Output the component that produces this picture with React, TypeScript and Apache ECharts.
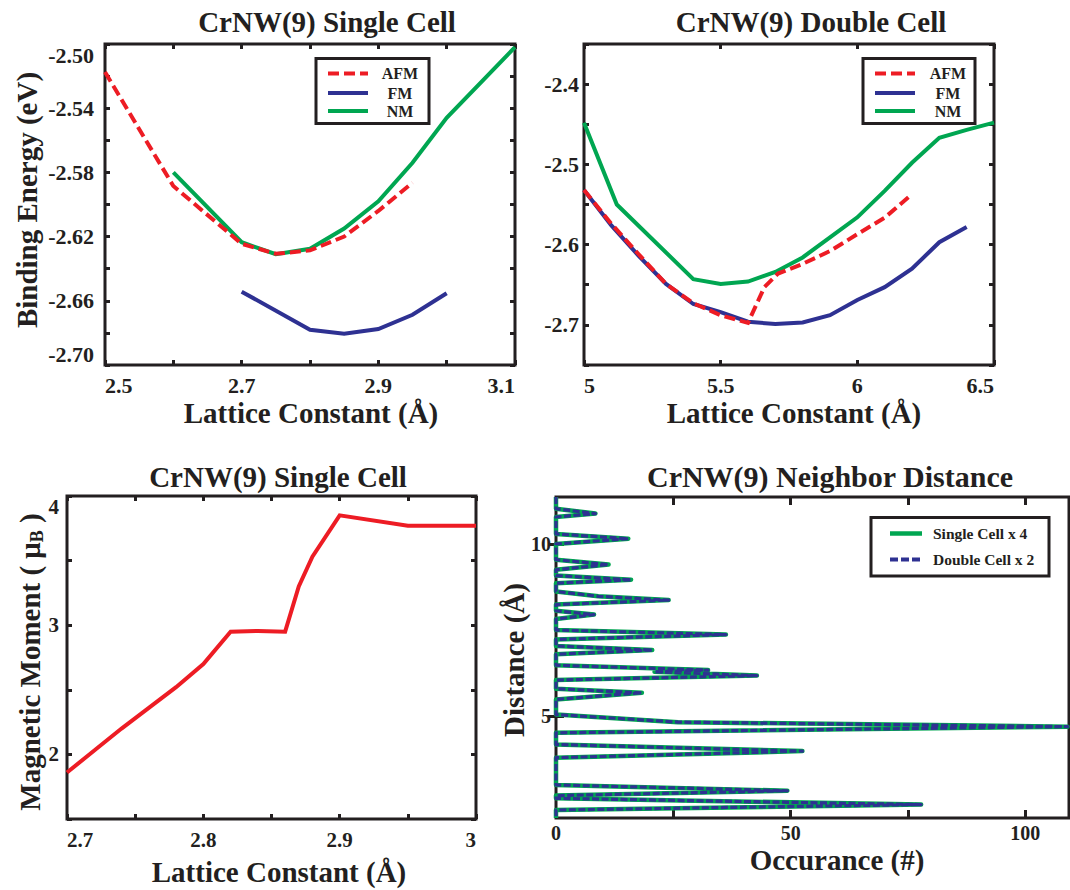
import React, { useEffect, useRef } from "react";
import * as echarts from "echarts";

const INK = "#231f20";
const RED = "#ed1c24";
const BLUE = "#2e3192";
const GREEN = "#00a651";
const FONT = '"Liberation Serif", "Times New Roman", serif';

// ---------- Panel 1: CrNW(9) Single Cell, binding energy ----------
const p1AfmX = [2.5, 2.6, 2.7, 2.75, 2.8, 2.85, 2.9, 2.95];
const p1AfmY = [-2.5175, -2.5885, -2.6245, -2.6307, -2.6286, -2.62, -2.604, -2.5864];
const p1FmX = [2.7, 2.8, 2.85, 2.9, 2.95, 3.0];
const p1FmY = [-2.6543, -2.678, -2.6805, -2.6776, -2.6687, -2.6553];
const p1NmX = [2.6, 2.7, 2.75, 2.8, 2.85, 2.9, 2.95, 3.0, 3.1];
const p1NmY = [-2.58, -2.6235, -2.631, -2.6276, -2.615, -2.598, -2.574, -2.546, -2.502];
const p1XTicks = [2.5, 2.6, 2.7, 2.8, 2.9, 3.0, 3.1];
const p1XLabels = [2.5, 2.7, 2.9, 3.1];
const p1YTicks = [-2.7, -2.68, -2.66, -2.64, -2.62, -2.6, -2.58, -2.56, -2.54, -2.52, -2.5];
const p1YLabels = [-2.7, -2.66, -2.62, -2.58, -2.54, -2.5];

// ---------- Panel 2: CrNW(9) Double Cell, binding energy ----------
const p2AfmX = [5.0, 5.1, 5.2, 5.3, 5.4, 5.5, 5.6, 5.66, 5.71, 5.8, 5.9, 6.0, 6.1, 6.2];
const p2AfmY = [-2.532, -2.574, -2.612, -2.649, -2.673, -2.688, -2.6975, -2.653, -2.636, -2.624, -2.608, -2.587, -2.5665, -2.537];
const p2FmX = [5.0, 5.1, 5.2, 5.3, 5.4, 5.5, 5.6, 5.7, 5.8, 5.9, 6.0, 6.1, 6.2, 6.3, 6.4];
const p2FmY = [-2.532, -2.576, -2.614, -2.649, -2.674, -2.684, -2.696, -2.699, -2.697, -2.688, -2.669, -2.653, -2.63, -2.597, -2.578];
const p2NmX = [5.0, 5.12, 5.4, 5.5, 5.6, 5.7, 5.8, 5.9, 6.0, 6.1, 6.2, 6.3, 6.4, 6.5];
const p2NmY = [-2.448, -2.55, -2.643, -2.649, -2.646, -2.634, -2.616, -2.591, -2.566, -2.533, -2.498, -2.467, -2.457, -2.448];
const p2XTicks = [5, 5.5, 6, 6.5];
const p2XLabels = [5, 5.5, 6, 6.5];
const p2YTicks = [-2.75, -2.7, -2.65, -2.6, -2.55, -2.5, -2.45, -2.4, -2.35];
const p2YLabels = [-2.7, -2.6, -2.5, -2.4];

// ---------- Panel 3: magnetic moment ----------
const p3X = [2.7, 2.72, 2.74, 2.76, 2.78, 2.8, 2.82, 2.84, 2.86, 2.87, 2.88, 2.9, 2.95, 3.0];
const p3Y = [1.86, 2.03, 2.2, 2.36, 2.52, 2.7, 2.95, 2.955, 2.95, 3.3, 3.53, 3.85, 3.77, 3.77];
const p3XTicks = [2.7, 2.75, 2.8, 2.85, 2.9, 2.95, 3.0];
const p3XLabels = [2.7, 2.8, 2.9, 3];
const p3YTicks = [1.5, 2, 2.5, 3, 3.5, 4];
const p3YLabels = [2, 3, 4];

// ---------- Panel 4: neighbor distance ----------
const nbDist = [11.36, 11.02, 10.88, 10.78, 10.29, 10.15, 10.0, 9.54, 9.4, 9.25, 9.08, 8.96, 8.86,
  8.62, 8.48, 8.37, 8.24, 8.06, 7.95, 7.82, 7.5, 7.37, 7.23, 7.04, 6.92, 6.8,
  6.48, 6.34, 6.29, 6.18, 6.05, 5.8, 5.68, 5.49, 5.05, 4.83, 4.7, 4.52,
  4.18, 3.99, 3.8, 3.01, 2.84, 2.7, 2.62, 2.44, 2.28, 2.05];
const singleOcc = [0, 0, 8.4, 0, 0, 15.4, 0, 0, 11.2, 0, 0, 16.0, 0,
  0, 9.0, 24.0, 0, 0, 8.1, 0, 0, 36.2, 0, 0, 20.5, 0,
  0, 32.4, 21.0, 42.8, 0, 0, 18.3, 0, 0, 26.0, 109, 0,
  0, 52.5, 0, 0, 49.3, 0, 0, 77.8, 0, 0];
const doubleOcc = [0, 0, 8.4, 0, 0, 15.4, 0, 0, 11.2, 0, 0, 16.0, 0,
  0, 9.0, 24.0, 0, 0, 8.1, 0, 0, 36.2, 0, 0, 20.5, 0,
  0, 32.4, 21.0, 42.8, 0, 0, 18.3, 0, 0, 26.0, 109, 0,
  0, 52.5, 0, 0, 49.3, 0, 0, 77.8, 0, 0];
const p4XTicks = [0, 25, 50, 75, 100];
const p4XLabels = [0, 50, 100];
const p4YTicks = [5, 10];
const p4YLabels = [5, 10];

const pairs = (xs: number[], ys: number[]) => xs.map((x, i) => [x, ys[i]]);

function axisPair(kind: "x" | "y", grid: number, min: number, max: number, ticks: number[], labels: number[], o: any) {
  const tick = { show: true, inside: true, length: o.tickLen, lineStyle: { color: INK, width: o.tickW }, customValues: ticks };
  const base: any = {
    type: "value", gridIndex: grid, min, max, scale: true,
    splitLine: { show: false }, axisLine: { show: false }, axisTick: tick,
  };
  const label: any = {
    show: true, customValues: labels, margin: o.margin, fontSize: o.fs, fontWeight: "bold",
    fontFamily: FONT, color: INK, formatter: o.fmt || ((v: number) => String(v)),
  };
  if (o.alignMin) label.alignMinLabel = o.alignMin;
  if (o.alignMax) label.alignMaxLabel = o.alignMax;
  if (o.vMin) label.verticalAlignMinLabel = o.vMin;
  if (o.vMax) label.verticalAlignMaxLabel = o.vMax;
  return [
    { ...base, position: kind === "x" ? "bottom" : "left", axisLabel: label },
    { ...base, position: kind === "x" ? "top" : "right", axisLabel: { show: false } },
  ];
}

const txt = (text: string, x: number, y: number, size: number, extra: any = {}) => ({
  type: "text", x, y, z: 100, rotation: extra.rotation || 0,
  style: {
    text, font: `bold ${size}px ${FONT}`, fill: INK,
    align: extra.align || "center", textAlign: extra.align || "center",
    verticalAlign: "middle", textVerticalAlign: "middle",
    ...(extra.rich ? { rich: extra.rich } : {}),
  },
});

const legendBox = (x: number, y: number, w: number, h: number) => ({
  type: "rect", z: 100, shape: { x, y, width: w, height: h },
  style: { fill: "#ffffff", stroke: INK, lineWidth: 3 },
});
const legendLine = (x1: number, x2: number, y: number, color: string, width: number, dash?: number[]) => ({
  type: "line", z: 101, shape: { x1, y1: y, x2, y2: y },
  style: { stroke: color, lineWidth: width, lineDash: dash || null },
});

function buildOption(): any {
  const grids = [
    { left: 105, top: 44, width: 410, height: 321 },
    { left: 584, top: 44, width: 410, height: 321 },
    { left: 67, top: 496, width: 409, height: 323 },
    { left: 556, top: 497, width: 513, height: 321 },
  ].map((g) => ({ ...g, show: true, borderColor: INK, borderWidth: 3, backgroundColor: "transparent", containLabel: false }));

  const sm = { tickLen: 5, tickW: 3 };
  const xAxis = [
    ...axisPair("x", 0, 2.5, 3.1, p1XTicks, p1XLabels, { ...sm, margin: 9, fs: 22, alignMin: "left", alignMax: "right" }),
    ...axisPair("x", 1, 5, 6.5, p2XTicks, p2XLabels, { ...sm, margin: 9, fs: 22, alignMin: "left", alignMax: "right" }),
    ...axisPair("x", 2, 2.7, 3.0, p3XTicks, p3XLabels, { ...sm, margin: 10, fs: 21, alignMin: "left", alignMax: "right" }),
    ...axisPair("x", 3, 0, 109.3, p4XTicks, p4XLabels, { tickLen: 8, tickW: 3, margin: 5, fs: 20 }),
  ];
  const yAxis = [
    ...axisPair("y", 0, -2.7, -2.5, p1YTicks, p1YLabels, { ...sm, margin: 11, fs: 22, fmt: (v: number) => v.toFixed(2), vMin: "bottom", vMax: "top" }),
    ...axisPair("y", 1, -2.75, -2.35, p2YTicks, p2YLabels, { ...sm, margin: 5, fs: 22, fmt: (v: number) => v.toFixed(1) }),
    ...axisPair("y", 2, 1.5, 4, p3YTicks, p3YLabels, { ...sm, margin: 8, fs: 21, vMax: "top" }),
    ...axisPair("y", 3, 2.05, 11.36, p4YTicks, p4YLabels, { tickLen: 8, tickW: 3, margin: 5, fs: 20 }),
  ];

  const line = (name: string, ax: number, data: number[][], color: string, width: number, dash?: number[], join = "miter") => ({
    name, type: "line", xAxisIndex: ax * 2, yAxisIndex: ax * 2, data, showSymbol: false, symbol: "none",
    lineStyle: { color, width, type: dash || "solid", cap: "butt", join }, clip: true, silent: true,
  });

  const series = [
    line("NM", 0, pairs(p1NmX, p1NmY), GREEN, 4),
    line("FM", 0, pairs(p1FmX, p1FmY), BLUE, 4),
    line("AFM", 0, pairs(p1AfmX, p1AfmY), RED, 4, [11, 5]),
    line("NM", 1, pairs(p2NmX, p2NmY), GREEN, 4),
    line("FM", 1, pairs(p2FmX, p2FmY), BLUE, 4),
    line("AFM", 1, pairs(p2AfmX, p2AfmY), RED, 4, [11, 5]),
    line("Magnetic Moment", 2, pairs(p3X, p3Y), RED, 4),
    line("Single Cell x 4", 3, pairs(singleOcc, nbDist), GREEN, 4.5, undefined, "round"),
    line("Double Cell x 2", 3, pairs(doubleOcc, nbDist), BLUE, 3.2, [7, 2.5], "round"),
  ];

  const graphic = [
    txt("CrNW(9) Single Cell", 327, 22, 29),
    txt("CrNW(9) Double Cell", 811, 22, 29),
    txt("CrNW(9) Single Cell", 278, 477, 29),
    txt("CrNW(9) Neighbor Distance", 830, 476, 30),
    txt("Lattice Constant (Å)", 311, 413, 29),
    txt("Lattice Constant (Å)", 794, 413, 29),
    txt("Lattice Constant (Å)", 279, 872, 29),
    txt("Occurance (#)", 837, 860, 29),
    txt("Binding Energy (eV)", 27, 200, 29, { rotation: Math.PI / 2 }),
    txt("Distance (Å)", 514, 660, 29, { rotation: Math.PI / 2 }),
    txt("Magnetic Moment ( μ{sub|B} )", 30, 662, 29, {
      rotation: Math.PI / 2,
      rich: { sub: { font: `bold 18px ${FONT}`, fill: INK, padding: [14, 0, 0, 0], verticalAlign: "bottom" } },
    }),
    // legend panel 1
    legendBox(316, 58.5, 113, 65),
    legendLine(328, 368, 73.5, RED, 4, [11, 5]),
    legendLine(328, 368, 93, BLUE, 4),
    legendLine(328, 368, 111, GREEN, 4),
    txt("AFM", 400, 73.5, 16),
    txt("FM", 400, 93, 16),
    txt("NM", 400, 111, 16),
    // legend panel 2
    legendBox(863, 58.5, 112, 65),
    legendLine(875, 915, 73.5, RED, 4, [11, 5]),
    legendLine(875, 915, 93, BLUE, 4),
    legendLine(875, 915, 111, GREEN, 4),
    txt("AFM", 948, 73.5, 16),
    txt("FM", 948, 93, 16),
    txt("NM", 948, 111, 16),
    // legend panel 4
    legendBox(871, 517.5, 178, 58.5),
    legendLine(890, 922, 533.5, GREEN, 4.5),
    legendLine(890, 922, 559.5, BLUE, 4, [8, 3]),
    txt("Single Cell x 4", 933, 533.5, 15.5, { align: "left" }),
    txt("Double Cell x 2", 933, 559.5, 15.5, { align: "left" }),
  ];

  return {
    animation: false,
    backgroundColor: "#ffffff",
    textStyle: { fontFamily: FONT },
    grid: grids,
    xAxis,
    yAxis,
    series,
    graphic,
  };
}

export default function App() {
  const ref = useRef<HTMLDivElement>(null);
  useEffect(() => {
    if (!ref.current) return;
    const chart = echarts.init(ref.current, null, { renderer: "svg", width: 1070, height: 890 });
    chart.setOption(buildOption());
    return () => chart.dispose();
  }, []);
  return (
    <div
      ref={ref}
      style={{ position: "fixed", left: 0, top: 0, width: 1070, height: 890, background: "#ffffff" }}
    />
  );
}
